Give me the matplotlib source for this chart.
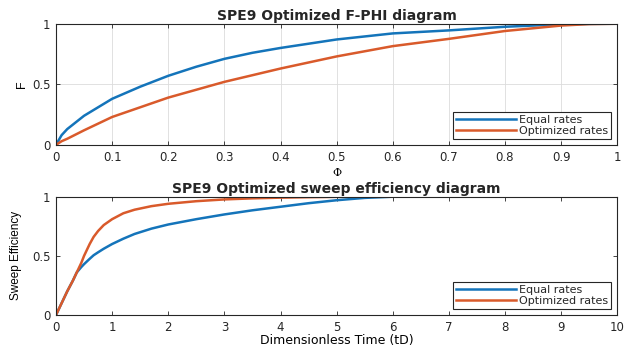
import matplotlib.pyplot as plt

# F-PHI curves
phi = [0, 0.01, 0.02, 0.05, 0.1, 0.15, 0.2, 0.25, 0.3, 0.35, 0.4, 0.5,
       0.6, 0.7, 0.8, 0.9, 0.95, 1.0]
f_equal = [0, 0.08, 0.13, 0.24, 0.38, 0.48, 0.57, 0.645, 0.71, 0.76, 0.80,
           0.87, 0.92, 0.945, 0.975, 0.995, 0.999, 1.0]
f_opt = [0, 0.03, 0.05, 0.12, 0.23, 0.31, 0.39, 0.455, 0.52, 0.575, 0.63,
         0.73, 0.815, 0.875, 0.94, 0.985, 0.997, 1.0]

# sweep efficiency vs dimensionless time
td = [0, 0.1, 0.2, 0.3, 0.37, 0.45, 0.5, 0.6, 0.67, 0.75, 0.85, 1.0, 1.2,
      1.4, 1.7, 2, 2.5, 3, 3.5, 4, 4.5, 5, 5.5, 6, 7, 8, 9, 10]
ev_equal = [0, 0.10, 0.20, 0.29, 0.36, 0.405, 0.43, 0.475, 0.505, 0.53,
            0.56, 0.60, 0.645, 0.685, 0.73, 0.765, 0.81, 0.85, 0.885, 0.915,
            0.945, 0.97, 0.99, 1.0, 1.0, 1.0, 1.0, 1.0]
ev_opt = [0, 0.10, 0.20, 0.29, 0.36, 0.44, 0.50, 0.60, 0.66, 0.71, 0.76,
          0.81, 0.86, 0.89, 0.92, 0.94, 0.962, 0.977, 0.986, 0.992, 0.996,
          0.999, 1.0, 1.0, 1.0, 1.0, 1.0, 1.0]

labels = ['Equal rates', 'Optimized rates']
blue = '#1474BA'
orange = '#D95A2B'
dark = '#262626'

plt.rcParams['font.family'] = ['DejaVu Sans']
plt.rcParams['text.color'] = dark

fig = plt.figure(figsize=(6.25, 3.49), dpi=100)
ax1 = fig.add_axes([0.0896, 0.585, 0.898, 0.347])
ax2 = fig.add_axes([0.0896, 0.0974, 0.898, 0.339])


def style(ax):
    for s in ax.spines.values():
        s.set_color(dark)
        s.set_linewidth(0.8)
    ax.tick_params(direction='in', top=True, right=True, length=3,
                   width=0.6, colors=dark, labelsize=8.5)
    ax.tick_params(axis='x', pad=4.5)
    ax.tick_params(axis='y', pad=4)


def add_legend(ax):
    leg = ax.legend(loc='lower right', fontsize=8, handlelength=5.4,
                    fancybox=False, borderpad=0.25, labelspacing=0.1,
                    handletextpad=0.3, borderaxespad=0.55, framealpha=1)
    leg.get_frame().set_edgecolor(dark)
    leg.get_frame().set_linewidth(0.8)


ax1.plot(phi, f_equal, color=blue, lw=1.8, label=labels[0])
ax1.plot(phi, f_opt, color=orange, lw=1.8, label=labels[1])
ax1.set_xlim(0, 1)
ax1.set_ylim(0, 1)
ax1.set_xticks([i / 10 for i in range(11)])
ax1.set_xticklabels(['0'] + [f'{i / 10:g}' for i in range(1, 10)] + ['1'])
ax1.set_yticks([0, 0.5, 1])
ax1.set_yticklabels(['0', '0.5', '1'])
ax1.grid(True, color='#dcdcdc', lw=0.6)
ax1.set_axisbelow(True)
style(ax1)
ax1.set_title('SPE9 Optimized F-PHI diagram', fontsize=10,
              fontweight='bold', pad=3)
ax1.set_xlabel('Φ', fontsize=8, labelpad=3, family='DejaVu Serif')
ax1.set_ylabel('F', fontsize=9, labelpad=3, family='Liberation Sans')
add_legend(ax1)

ax2.plot(td, ev_equal, color=blue, lw=1.8, label=labels[0])
ax2.plot(td, ev_opt, color=orange, lw=1.8, label=labels[1])
ax2.set_xlim(0, 10)
ax2.set_ylim(0, 1)
ax2.set_xticks(range(11))
ax2.set_yticks([0, 0.5, 1])
ax2.set_yticklabels(['0', '0.5', '1'])
style(ax2)
ax2.set_title('SPE9 Optimized sweep efficiency diagram', fontsize=10,
              fontweight='bold', pad=3)
ax2.set_xlabel('Dimensionless Time (tD)', fontsize=9, labelpad=0)
ax2.set_ylabel('Sweep Efficiency', fontsize=8.5, labelpad=7,
               family='Liberation Sans')
add_legend(ax2)

fig.savefig('out.png', dpi=100)
